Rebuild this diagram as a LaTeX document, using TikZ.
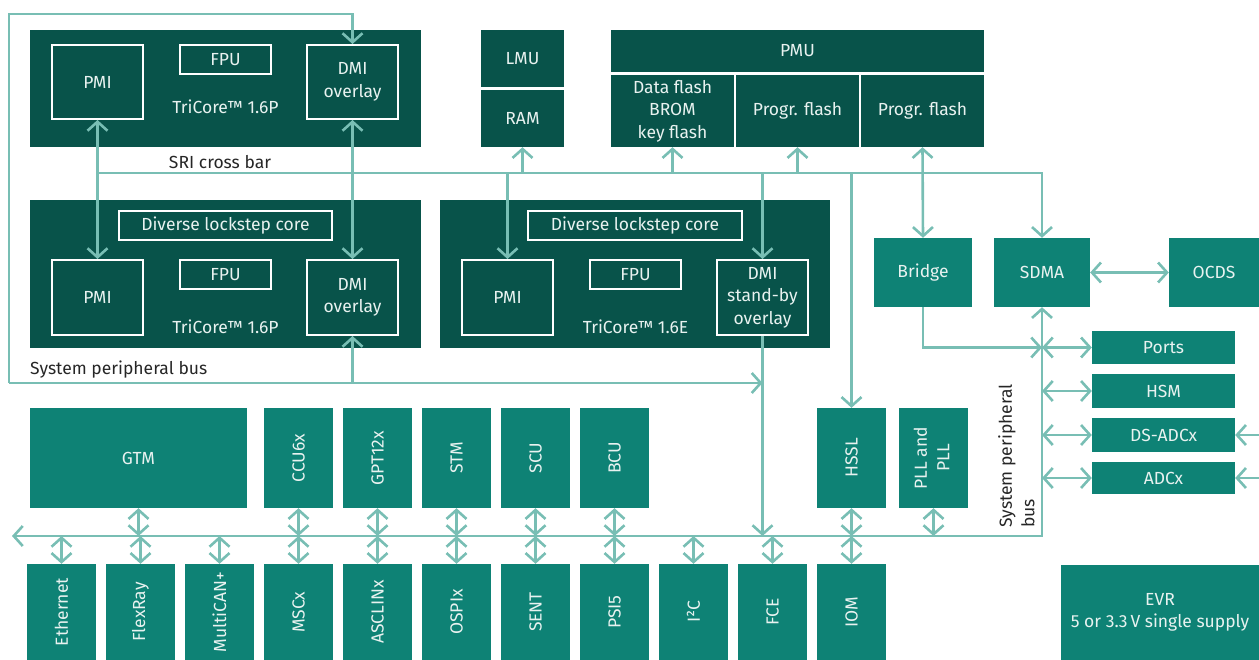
\documentclass[tikz,border=0pt]{standalone}
\usepackage{fontspec}
\setmainfont{Fira Sans}
\usetikzlibrary{arrows.meta}

\definecolor{deep}{HTML}{08534A}
\definecolor{mid}{HTML}{0E8275}
\definecolor{buscol}{HTML}{78BEB4}
\definecolor{pale}{HTML}{E8F2F0}

\begin{document}
\begin{tikzpicture}[x=1pt, y=-1pt, >={Straight Barb[length=9pt,width=20pt]},
    every node/.style={font=\fontsize{17.5}{22.5}\selectfont, align=center, inner sep=0pt},
    sz/.style 2 args={minimum width=#1pt, minimum height=#2pt},
    core/.style={fill=deep},
    unit/.style={draw=white, line width=2pt, text=pale},
    blk/.style={fill=deep, text=pale},
    periph/.style={fill=mid, text=pale},
    tag/.style={text=pale},
    note/.style={text=black!85},
    link/.style={draw=buscol, line width=2.6pt},
    wires/.style={every edge/.style={link}}]

  \useasboundingbox (0,0) rectangle (1259,660);

  % TriCore 1.6P, main core
  \node[core, sz={391}{117}] (coreA) at (225.5,88.5) {};
  \node[unit, sz={91}{74}] (pmiA) at (97.5,82)   {PMI};
  \node[unit, sz={91}{29}] (fpuA) at (225.5,59.5) {FPU};
  \node[unit, sz={91}{74}] (dmiA) at (352.5,82)  {DMI\\overlay};
  \node[tag] (tcA) at (225.5,107) {TriCore™ 1.6P};

  % TriCore 1.6P with lockstep
  \node[core, sz={391}{148}] (coreB) at (225.5,274) {};
  \node[unit, sz={213}{29}] (dlsB) at (225.5,225.5) {Diverse lockstep core};
  \node[unit, sz={91}{75}] (pmiB) at (97.5,297.5)  {PMI};
  \node[unit, sz={91}{29}] (fpuB) at (225.5,274.5) {FPU};
  \node[unit, sz={91}{75}] (dmiB) at (352.5,297.5) {DMI\\overlay};
  \node[tag] (tcB) at (225.5,327) {TriCore™ 1.6P};

  % TriCore 1.6E with lockstep
  \node[core, sz={390}{148}] (coreC) at (635,274) {};
  \node[unit, sz={214}{29}] (dlsC) at (635,225.5) {Diverse lockstep core};
  \node[unit, sz={91}{75}] (pmiC) at (507.5,297.5) {PMI};
  \node[unit, sz={91}{29}] (fpuC) at (635.5,274.5) {FPU};
  \node[unit, sz={91}{75}] (dmiS) at (762.5,297.5) {DMI\\stand-by\\overlay};
  \node[tag] (tcC) at (635.5,327) {TriCore™ 1.6E};

  % memories
  \node[blk, sz={83}{57}]  (lmu)    at (522.5,58.5) {LMU};
  \node[blk, sz={83}{57}]  (ram)    at (522.5,118.5) {RAM};
  \node[blk, sz={373}{42}] (pmu)    at (797.5,51)  {PMU};
  \node[blk, sz={123}{72}] (dflash) at (672.5,111) {Data flash\\BROM\\key flash};
  \node[blk, sz={123}{72}] (pf1)    at (797.5,111) {Progr. flash};
  \node[blk, sz={123}{72}] (pf2)    at (922.5,111) {Progr. flash};

  \node[note] (sril) at (220,162) {SRI cross bar};
  \node[note, anchor=west] (spbl) at (30,370) {System peripheral bus};
  \node[note, anchor=north west, rotate=90, align=left] (spbr) at (998,528)
    {System peripheral\\bus};

  % right-hand side
  \node[periph, sz={98}{69}]  (bridge) at (923,272.5)  {Bridge};
  \node[periph, sz={96}{69}]  (sdma)   at (1042,272.5) {SDMA};
  \node[periph, sz={90}{69}]  (ocds)   at (1214,272.5) {OCDS};
  \node[periph, sz={143}{33}] (ports)  at (1163.5,347.5) {Ports};
  \node[periph, sz={143}{34}] (hsm)    at (1163.5,391) {HSM};
  \node[periph, sz={143}{34}] (dsadc)  at (1163.5,435) {DS-ADCx};
  \node[periph, sz={143}{32}] (adc)    at (1163.5,478) {ADCx};
  \node[periph, sz={198}{95}] (evr)    at (1160,612.5) {EVR\\5 or 3.3\,V single supply};

  % peripherals above the bus
  \node[periph, sz={217}{100}] (gtm)  at (138.5,458) {GTM};
  \node[periph, sz={69}{100}]  (ccu)  at (298.5,458) {\rotatebox{90}{CCU6x}};
  \node[periph, sz={69}{100}]  (gpt)  at (377.5,458) {\rotatebox{90}{GPT12x}};
  \node[periph, sz={69}{100}]  (stm)  at (456.5,458) {\rotatebox{90}{STM}};
  \node[periph, sz={69}{100}]  (scu)  at (535.5,458) {\rotatebox{90}{SCU}};
  \node[periph, sz={69}{100}]  (bcu)  at (614.5,458) {\rotatebox{90}{BCU}};
  \node[periph, sz={69}{100}]  (hssl) at (851.5,458) {\rotatebox{90}{HSSL}};
  \node[periph, sz={69}{100}]  (pll)  at (933.5,458)
    {\rotatebox{90}{\begin{tabular}{@{}c@{}}PLL and\\PLL\end{tabular}}};

  % peripherals below the bus
  \node[periph, sz={69}{96}] (eth)  at (61.5,612)  {\rotatebox{90}{Ethernet}};
  \node[periph, sz={69}{96}] (flex) at (140.5,612) {\rotatebox{90}{FlexRay}};
  \node[periph, sz={69}{96}] (mcan) at (219.5,612) {\rotatebox{90}{MultiCAN+}};
  \node[periph, sz={69}{96}] (msc)  at (298.5,612) {\rotatebox{90}{MSCx}};
  \node[periph, sz={69}{96}] (ascl) at (377.5,612) {\rotatebox{90}{ASCLINx}};
  \node[periph, sz={69}{96}] (ospi) at (456.5,612) {\rotatebox{90}{OSPIx}};
  \node[periph, sz={69}{96}] (sent) at (535.5,612) {\rotatebox{90}{SENT}};
  \node[periph, sz={69}{96}] (psi)  at (614.5,612) {\rotatebox{90}{PSI5}};
  \node[periph, sz={69}{96}] (itc)  at (693.5,612) {\rotatebox{90}{I²C}};
  \node[periph, sz={69}{96}] (fce)  at (772.5,612) {\rotatebox{90}{FCE}};
  \node[periph, sz={69}{96}] (iom)  at (851.5,612) {\rotatebox{90}{IOM}};

  \coordinate (sri)   at (0,173);
  \coordinate (spb)   at (9,383);
  \coordinate (loop)  at (352.5,14);
  \coordinate (pbus)  at (1042,536);
  \coordinate (pbusW) at (12,536);
  \coordinate (rim)   at (1259,0);

  % SRI cross bar
  \draw[link, ->] (pmiA.south |- sri) -| (sdma.north);
  \path[wires, <->] (pmiA.south) edge (pmiB.north)
        (dmiA.south) edge (dmiB.north)
        (pf2.south) edge (bridge.north)
        (sdma.east) edge (ocds.west);
  \path[wires, ->] (ram.south |- sri) edge (ram.south)
        (pmiC.north |- sri) edge (pmiC.north)
        (dmiS.north |- sri) edge (dmiS.north)
        (dflash.south |- sri) edge (dflash.south)
        (pf1.south |- sri) edge (pf1.south)
        (hssl.north |- sri) edge (hssl.north);

  % system peripheral buses
  \draw[link, ->] (spb) |- (loop) -- (dmiA.north);
  \draw[link, ->] (spb) -- (spb -| dmiS.south);
  \draw[link, ->] (dmiB.south |- spb) -- (dmiB.south);
  \draw[link, ->] (dmiS.south) -- (dmiS.south |- pbus);
  \draw[link, <->] (sdma.south) -- (pbus) -- (pbusW);
  \draw[link, ->] (bridge.south) |- (sdma.south |- ports.west);
  \path[wires, <->] (sdma.south |- ports.west) edge (ports.west)
        (sdma.south |- hsm.west) edge (hsm.west)
        (sdma.south |- dsadc.west) edge (dsadc.west)
        (sdma.south |- adc.west) edge (adc.west);
  \path[wires, ->] (rim |- dsadc.east) edge (dsadc.east)
        (rim |- adc.east) edge (adc.east);

  \path[wires, <->] (gtm.south) edge (gtm.south |- pbus)
        (ccu.south) edge (ccu.south |- pbus)
        (gpt.south) edge (gpt.south |- pbus)
        (stm.south) edge (stm.south |- pbus)
        (scu.south) edge (scu.south |- pbus)
        (bcu.south) edge (bcu.south |- pbus)
        (hssl.south) edge (hssl.south |- pbus)
        (pll.south) edge (pll.south |- pbus);
  \path[wires, <->] (eth.north |- pbus) edge (eth.north)
        (flex.north |- pbus) edge (flex.north)
        (mcan.north |- pbus) edge (mcan.north)
        (msc.north |- pbus) edge (msc.north)
        (ascl.north |- pbus) edge (ascl.north)
        (ospi.north |- pbus) edge (ospi.north)
        (sent.north |- pbus) edge (sent.north)
        (psi.north |- pbus) edge (psi.north)
        (itc.north |- pbus) edge (itc.north)
        (fce.north |- pbus) edge (fce.north)
        (iom.north |- pbus) edge (iom.north);

\end{tikzpicture}
\end{document}
